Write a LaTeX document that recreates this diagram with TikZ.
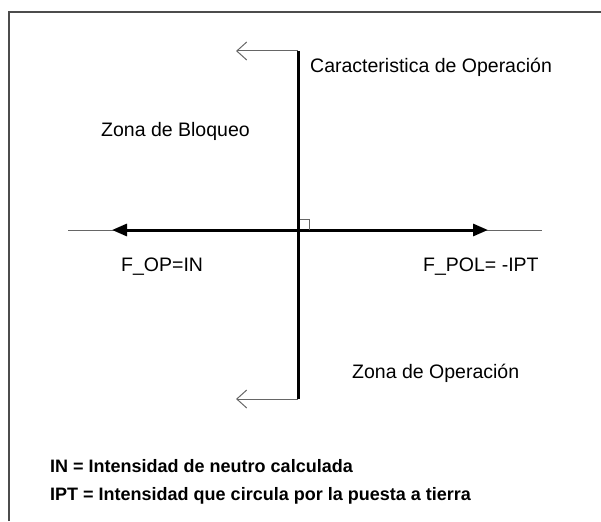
\documentclass[tikz,border=0pt]{standalone}
\usepackage{fontspec}
\setmainfont{Liberation Sans}
\usetikzlibrary{arrows.meta}
\begin{document}
\begin{tikzpicture}[x=1pt,y=-1pt,
  lbl/.style={anchor=base west, inner sep=0pt, font=\fontsize{19.5}{23}\selectfont},
  note/.style={anchor=base west, inner sep=0pt, font=\fontsize{18}{22}\selectfont\bfseries},
  thinline/.style={draw=black!60, line width=1pt},
  axisline/.style={draw=black, line width=3pt},
  frameline/.style={draw=black!70, line width=2pt}]
\useasboundingbox (0,0) rectangle (601,521);
\draw[frameline] (9,521) -- (9,12) -- (601,12);
\coordinate (L) at (68,230);
\coordinate (R) at (542,230);
\coordinate (LT) at (112,230);
\coordinate (RT) at (488,230);
\coordinate (O) at (298,230);
\coordinate (T) at (298,51);
\coordinate (B) at (298,399);
\coordinate (TA) at (236,51);
\coordinate (BA) at (236,399);
\draw[thinline] (L) -- (R);
\draw[axisline, -{Triangle[length=15pt,width=12pt]}] (O) -- (LT);
\draw[axisline, -{Triangle[length=15pt,width=12pt]}] (O) -- (RT);
\draw[thinline] (298,219) -- (309,219) -- (309,230);
\draw[thinline, -{Straight Barb[length=10pt,width=18pt]}] (T) -- (TA);
\draw[thinline, -{Straight Barb[length=10pt,width=18pt]}] (B) -- (BA);
\draw[axisline] (T) -- (B);
\node[lbl] (car) at (310,73) {Caracteristica de Operación};
\node[lbl] (blo) at (101,137) {Zona de Bloqueo};
\node[lbl] (fop) at (121,271) {F\_OP=IN};
\node[lbl] (fpol) at (423,271) {F\_POL= -IPT};
\node[lbl] (ope) at (352,378) {Zona de Operación};
\node[note] (in) at (50,472) {IN = Intensidad de neutro calculada};
\node[note] (ipt) at (50,500) {IPT = Intensidad que circula por la puesta a tierra};
\end{tikzpicture}
\end{document}
